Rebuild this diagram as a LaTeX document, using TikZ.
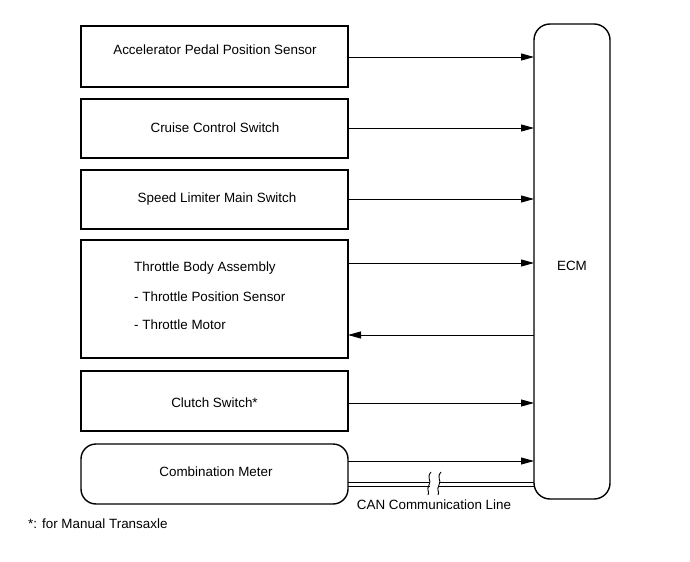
\documentclass[tikz,border=0pt]{standalone}
\usepackage{fontspec}
\setmainfont{Liberation Sans}
\usetikzlibrary{arrows.meta}
\begin{document}
\begin{tikzpicture}[x=1bp,y=-1bp,
  blk/.style={draw,line width=1.4bp},
  lbl/.style={font=\fontsize{13.4bp}{15bp}\selectfont,inner sep=0pt},
  sig/.style={line width=0.9bp,-{Triangle[length=13bp,width=7bp]}},
  can/.style={line width=1.6bp}]
\useasboundingbox (0,0) rectangle (690,562);
\draw[blk] (81,26) rectangle (348,87) coordinate (b1);
\draw[blk] (81,99) rectangle (348,158);
\draw[blk] (81,170) rectangle (348,229);
\draw[blk] (81,240) rectangle (348,358);
\draw[blk] (81,371) rectangle (348,431);
\draw[blk,rounded corners=15bp] (81,444) rectangle (348,504);
\draw[blk,rounded corners=16bp] (534,24) rectangle (610,499);
\node[lbl] (t1) at (215,50) {Accelerator Pedal Position Sensor};
\node[lbl] (t2) at (215,128) {Cruise Control Switch};
\node[lbl] (t3) at (217,199) {Speed Limiter Main Switch};
\node[lbl,anchor=west] (t4a) at (134,268) {Throttle Body Assembly};
\node[lbl,anchor=west] (t4b) at (134,297) {- Throttle Position Sensor};
\node[lbl,anchor=west] (t4c) at (134,325) {- Throttle Motor};
\node[lbl] (t5) at (214.5,403) {Clutch Switch*};
\node[lbl] (t6) at (216,472) {Combination Meter};
\node[lbl] (ecm) at (572,266) {ECM};
\node[lbl] (canl) at (434,505) {CAN Communication Line};
\node[lbl,anchor=west] (note) at (28,524) {*: for Manual Transaxle};
\coordinate (L1) at (348,57); \coordinate (R1) at (534,57);
\coordinate (L2) at (348,128); \coordinate (R2) at (534,128);
\coordinate (L3) at (348,199); \coordinate (R3) at (534,199);
\coordinate (L4) at (348,263); \coordinate (R4) at (534,263);
\coordinate (L5) at (348,335); \coordinate (R5) at (534,335);
\coordinate (L6) at (348,403); \coordinate (R6) at (534,403);
\coordinate (L7) at (348,461); \coordinate (R7) at (534,461);
\draw[sig] (L1) -- (R1);
\draw[sig] (L2) -- (R2);
\draw[sig] (L3) -- (R3);
\draw[sig] (L4) -- (R4);
\draw[sig] (R5) -- (L5);
\draw[sig] (L6) -- (R6);
\draw[sig] (L7) -- (R7);
% CAN double line
\foreach \yy in {482.5,486.5}{
  \draw[can] (348,\yy) -- (429.5,\yy);
  \draw[can] (438.5,\yy) -- (534,\yy);
}
\draw[line width=0.9bp] (431,472) .. controls (426,478) and (432,480) .. (429,485) .. controls (426,490) and (430,492) .. (428,495);
\draw[line width=0.9bp] (441,472) .. controls (436,478) and (442,480) .. (439,485) .. controls (436,490) and (440,492) .. (438,495);
\end{tikzpicture}
\end{document}
